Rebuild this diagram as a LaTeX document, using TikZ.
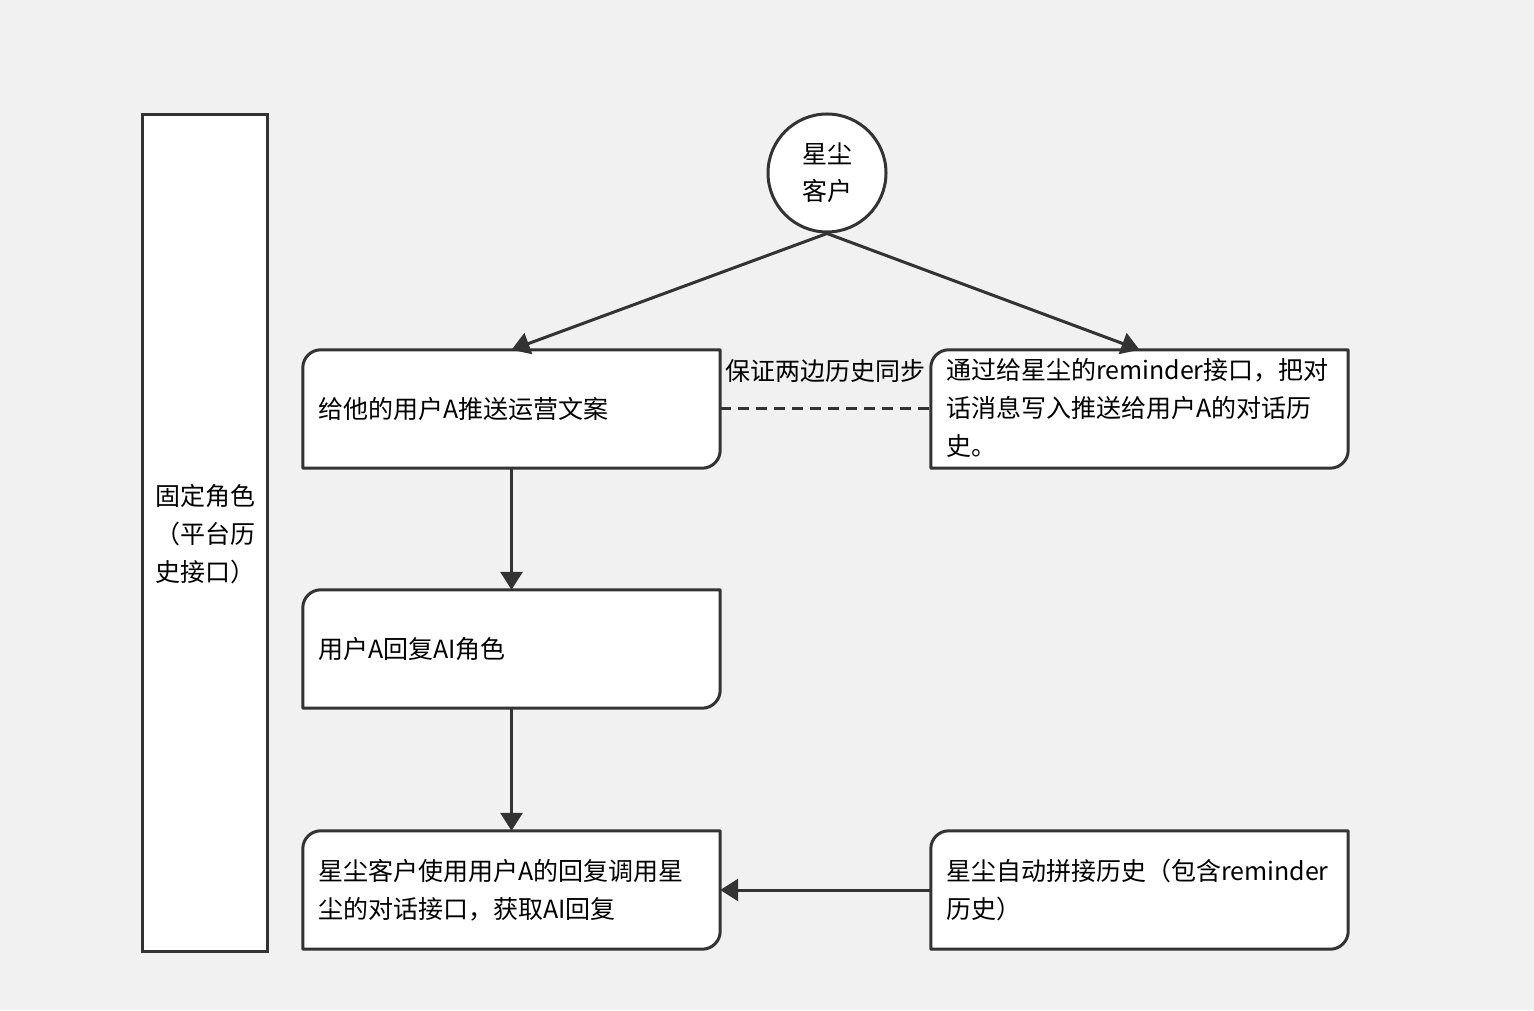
\documentclass[tikz,border=0pt]{standalone}
\usepackage{fontspec}
\setmainfont{Noto Sans CJK SC}
\usetikzlibrary{arrows.meta}
\definecolor{bgc}{HTML}{F1F1F1}
\definecolor{ink}{HTML}{333333}
\newcommand\roundbox[1]{\draw[boxline] (#1.south west) -- ([yshift=-18pt]#1.north west) arc[start angle=180,end angle=90,radius=18pt] -- (#1.north east) -- ([yshift=18pt]#1.south east) arc[start angle=0,end angle=-90,radius=18pt] -- cycle;}
\begin{document}
\begin{tikzpicture}[x=1pt,y=1pt,
  boxline/.style={draw=ink,fill=white,line width=3pt,line join=round},
  shapebox/.style={draw=none,inner sep=0pt,minimum width=417pt,minimum height=118pt},
  txt/.style={inner sep=0pt,text=black,font=\fontsize{25}{38}\selectfont,align=left},
  arr/.style={draw=ink,line width=3pt,-{Triangle[length=18pt,width=22pt]}}]
\fill[bgc] (0,0) rectangle (1534,1010);
\useasboundingbox (0,0) rectangle (1534,1010);
% left column
\node[draw=ink,fill=white,line width=3pt,inner sep=0pt,minimum width=125pt,minimum height=836pt] (lrect) at (204.5,477) {};
\node[txt] (ltxt) at (205,476) {固定角色\\（平台历\\史接口）};
% circle
\node[circle,draw=ink,fill=white,line width=3pt,minimum size=118pt,inner sep=0pt,font=\fontsize{25}{37}\selectfont,align=center] (c) at (827,837) {星尘\\客户};
% boxes
\node[shapebox] (b1) at (511.5,601) {};
\node[shapebox] (b2) at (1139.5,601) {};
\node[shapebox] (b3) at (511.5,361) {};
\node[shapebox] (b4) at (511.5,120) {};
\node[shapebox] (b5) at (1139.5,120) {};
\roundbox{b1}\roundbox{b2}\roundbox{b3}\roundbox{b4}\roundbox{b5}
\node[txt,anchor=west] (t1) at ([xshift=15pt]b1.west) {给他的用户A推送运营文案};
\node[txt,anchor=west] (t2) at ([xshift=15pt,yshift=1pt]b2.west) {通过给星尘的reminder接口，把对\\话消息写入推送给用户A的对话历\\史。};
\node[txt,anchor=west] (t3) at ([xshift=15pt]b3.west) {用户A回复AI角色};
\node[txt,anchor=west] (t4) at ([xshift=15pt]b4.west) {星尘客户使用用户A的回复调用星\\尘的对话接口，获取AI回复};
\node[txt,anchor=west] (t5) at ([xshift=15pt]b5.west) {星尘自动拼接历史（包含reminder\\历史）};
% connectors
\draw[arr] (c.south) -- (b1.north);
\draw[arr] (c.south) -- (b2.north);
\draw[arr] (b1.south) -- (b3.north);
\draw[arr] (b3.south) -- (b4.north);
\draw[arr] (b5.west) -- (b4.east);
\draw[draw=ink,line width=3pt,dash pattern=on 11pt off 7pt] (b1.east) -- node[midway,yshift=38pt,txt] (lab) {保证两边历史同步} (b2.west);
\end{tikzpicture}
\end{document}
